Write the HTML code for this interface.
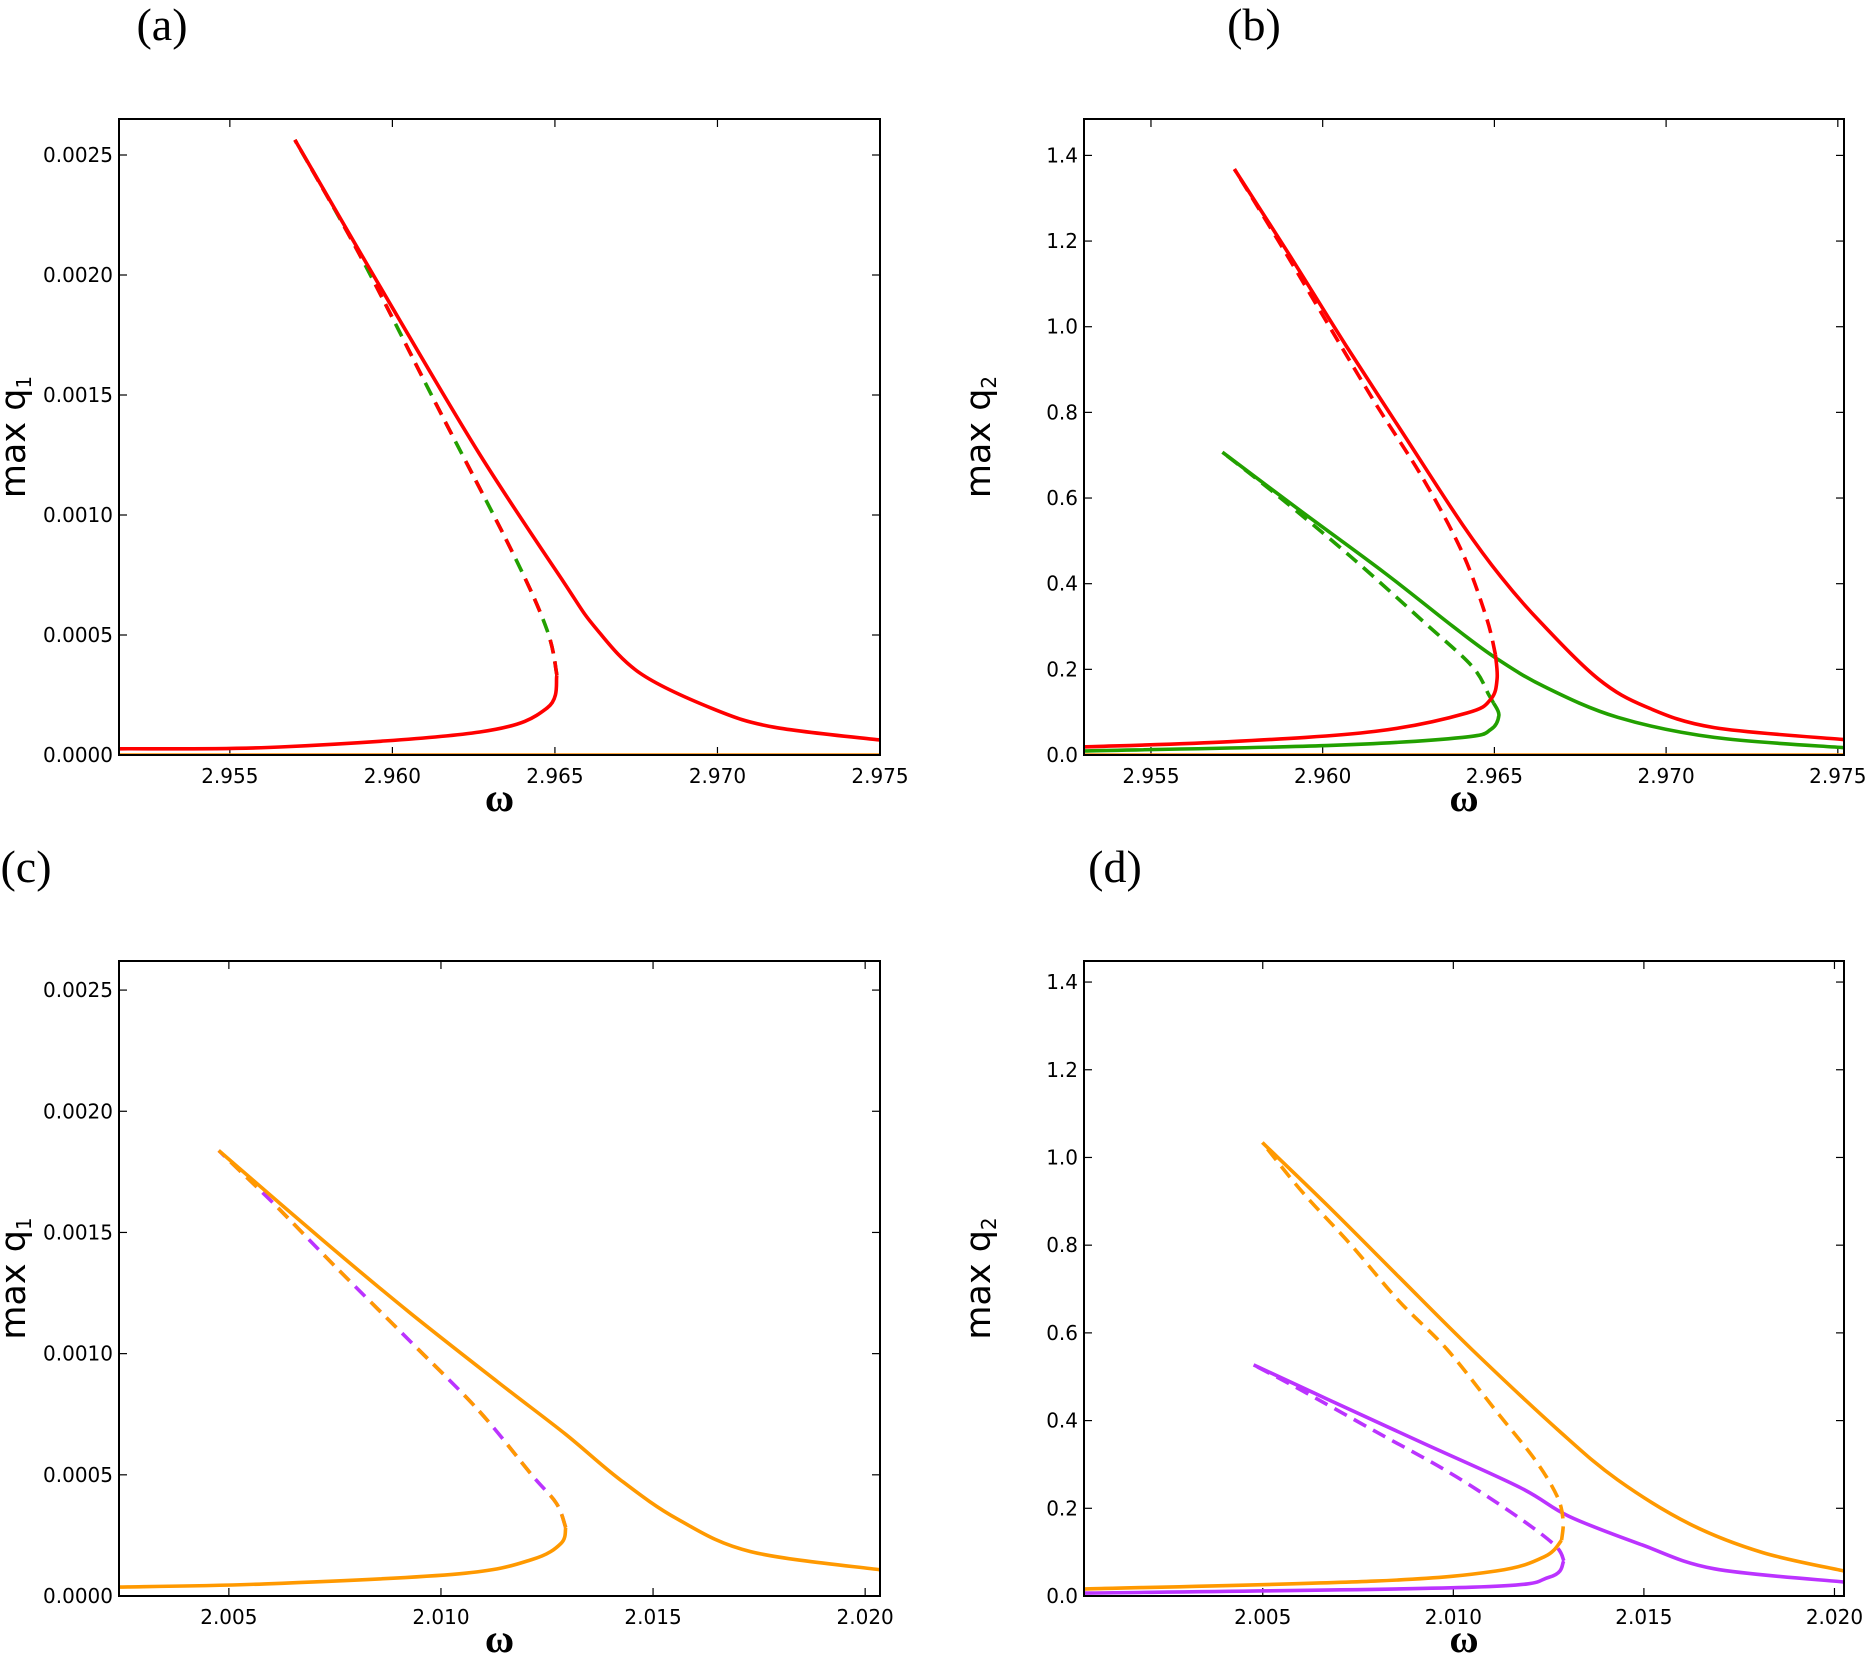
<!DOCTYPE html>
<html><head><meta charset="utf-8">
<style>
body{margin:0;background:#fff;}
svg{display:block;font-family:"DejaVu Sans","Liberation Sans",sans-serif;}
.tick{font-size:20px;fill:#000;}
.panel{font-family:"Liberation Serif",serif;font-size:46px;fill:#000;}
.ytitle{font-size:35px;fill:#000;}
.xtitle{font-family:"Liberation Serif",serif;font-size:40px;font-weight:bold;fill:#000;}
</style></head>
<body>
<svg id="fig" width="1867" height="1658" viewBox="0 0 1867 1658" xmlns="http://www.w3.org/2000/svg"></svg>
<script>
// ---- Panel (a) data: max q1 vs omega ----
const aRedUpperX=[2.95700,2.95993,2.96269,2.96525,2.96623,2.96762,2.96989,2.97174,2.975];
const aRedUpperY=[0.002563,0.00188,0.001252,0.000724,0.000533,0.000341,0.000191,0.000116,0.0000624];
const aRedLowerX=[2.95159,2.95654,2.96269,2.96476,2.96506];
const aRedLowerY=[0.000026,0.0000333,0.0000957,0.000196,0.000333];
const aDashX=[2.96506,2.96476,2.96371,2.96137,2.959,2.957];
const aDashY=[0.000333,0.00052,0.00084,0.001456,0.002083,0.002563];
// ---- Panel (b) data: max q2 vs omega ----
const bRedUpperX=[2.95743,2.95898,2.96068,2.96237,2.96407,2.9652,2.96633,2.96802,2.96943,2.9714,2.97518];
const bRedUpperY=[1.368,1.174,0.956,0.747,0.538,0.415,0.311,0.178,0.112,0.064,0.036];
const bRedLowerX=[2.95305,2.95729,2.96152,2.9642,2.9649,2.96508,2.96503];
const bRedLowerY=[0.019,0.031,0.055,0.098,0.131,0.178,0.235];
const bRedDashX=[2.96503,2.96477,2.96407,2.96294,2.96152,2.96011,2.9587,2.95743];
const bRedDashY=[0.235,0.32,0.472,0.643,0.823,1.012,1.202,1.368];
const bGreenUpperX=[2.95708,2.95941,2.96181,2.96378,2.96505,2.96647,2.96859,2.9714,2.97518];
const bGreenUpperY=[0.707,0.567,0.425,0.301,0.226,0.159,0.088,0.041,0.017];
const bGreenLowerX=[2.95305,2.96011,2.96407,2.9649,2.96513,2.96498];
const bGreenLowerY=[0.0095,0.022,0.041,0.06,0.093,0.121];
const bGreenDashX=[2.96498,2.96484,2.96435,2.96294,2.96082,2.9587,2.95708];
const bGreenDashY=[0.121,0.14,0.207,0.311,0.463,0.605,0.707];
// ---- Panel (c) data: max q1 vs omega ----
const cUpperX=[2.00476,2.00722,2.00928,2.01134,2.01294,2.0142,2.01558,2.0173,2.02035];
const cUpperY=[0.001838,0.001467,0.001167,0.000883,0.000667,0.000483,0.000317,0.000183,0.000108];
const cLowerX=[2.00241,2.00585,2.01043,2.01214,2.01283,2.01294];
const cLowerY=[0.0000367,0.00005,0.0000917,0.00015,0.000217,0.000283];
const cDashX=[2.01294,2.01272,2.01214,2.01088,2.00928,2.00756,2.00607,2.00476];
const cDashY=[0.000283,0.000383,0.0005,0.000767,0.00105,0.00135,0.001617,0.001838];
// ---- Panel (d) data: max q2 vs omega ----
const dOrUpperX=[2.00499,2.00667,2.00858,2.0105,2.01278,2.01431,2.01621,2.01812,2.02025];
const dOrUpperY=[1.034,0.893,0.727,0.561,0.376,0.265,0.164,0.099,0.057];
const dOrLowerX=[2.00031,2.00794,2.01112,2.0124,2.01284];
const dOrLowerY=[0.016,0.034,0.057,0.09,0.127];
const dOrDashX=[2.01284,2.01288,2.01272,2.01214,2.01112,2.00985,2.00858,2.00731,2.00604,2.00499];
const dOrDashY=[0.127,0.173,0.228,0.311,0.422,0.561,0.672,0.801,0.921,1.034];
const dPuUpperX=[2.00476,2.00667,2.00922,2.01176,2.01303,2.01494,2.01685,2.02025];
const dPuUpperY=[0.527,0.45,0.348,0.247,0.182,0.117,0.062,0.032];
const dPuLowerX=[2.00031,2.01049,2.01252,2.0129];
const dPuLowerY=[0.0065,0.02,0.043,0.08];
const dPuDashX=[2.0129,2.01265,2.01151,2.00985,2.00794,2.00604,2.00476];
const dPuDashY=[0.08,0.117,0.191,0.284,0.376,0.468,0.527];
// ---- tick labels ----
const xTicksA=["2.955","2.960","2.965","2.970","2.975"];
const xTicksC=["2.005","2.010","2.015","2.020"];
const yTicksQ1=["0.0000","0.0005","0.0010","0.0015","0.0020","0.0025"];
const yTicksQ2=["0.0","0.2","0.4","0.6","0.8","1.0","1.2","1.4"];

const NS="http://www.w3.org/2000/svg";
const svg=document.getElementById('fig');
function mk(tag,attrs,parent){const e=document.createElementNS(NS,tag);for(const k in attrs)e.setAttribute(k,attrs[k]);(parent||svg).appendChild(e);return e;}

function smoothPath(pts){
  if(pts.length<3)return pts.map((p,i)=>(i?'L':'M')+p[0].toFixed(1)+' '+p[1].toFixed(1)).join(' ');
  let d='M'+pts[0][0].toFixed(1)+' '+pts[0][1].toFixed(1);
  for(let i=0;i<pts.length-1;i++){
    const p0=pts[Math.max(0,i-1)],p1=pts[i],p2=pts[i+1],p3=pts[Math.min(pts.length-1,i+2)];
    const c1=[p1[0]+(p2[0]-p0[0])/6,p1[1]+(p2[1]-p0[1])/6];
    const c2=[p2[0]-(p3[0]-p1[0])/6,p2[1]-(p3[1]-p1[1])/6];
    d+=' C'+c1[0].toFixed(1)+' '+c1[1].toFixed(1)+' '+c2[0].toFixed(1)+' '+c2[1].toFixed(1)+' '+p2[0].toFixed(1)+' '+p2[1].toFixed(1);
  }
  return d;
}

function panel(name,box,xlim,ylim,xt,yt,letter,letterPos,ytitleSub){
  const g=mk('g',{});
  
  
  const sx=v=>box.x0+(v-xlim[0])/(xlim[1]-xlim[0])*(box.x1-box.x0);
  const sy=v=>box.y1-(v-ylim[0])/(ylim[1]-ylim[0])*(box.y1-box.y0);
  xt.forEach(t=>{const v=parseFloat(t);const x=sx(v);
    mk('line',{x1:x,x2:x,y1:box.y1,y2:box.y1-8,stroke:'#000','stroke-width':1.2},g);
    mk('line',{x1:x,x2:x,y1:box.y0,y2:box.y0+8,stroke:'#000','stroke-width':1.2},g);
    const tx=mk('text',{x:x,y:box.y1+28,'text-anchor':'middle',class:'tick'},g);tx.textContent=t;
    
    });
  yt.forEach(t=>{const v=parseFloat(t);const y=sy(v);
    mk('line',{x1:box.x0,x2:box.x0+8,y1:y,y2:y,stroke:'#000','stroke-width':1.2},g);
    mk('line',{x1:box.x1,x2:box.x1-8,y1:y,y2:y,stroke:'#000','stroke-width':1.2},g);
    const tx=mk('text',{x:box.x0-6,y:y+7,'text-anchor':'end',class:'tick'},g);tx.textContent=t;
    
    });
  const clipId='clip-'+name;
  const cp=mk('clipPath',{id:clipId},g);mk('rect',{x:box.x0,y:box.y0,width:box.x1-box.x0,height:box.y1-box.y0},cp);
  const plot=mk('g',{'clip-path':'url(#'+clipId+')'},g);
  function line(xs,ys,color,dash,nm){
    const pts=xs.map((x,i)=>[sx(x),sy(ys[i])]);
    const p=mk('path',{d:smoothPath(pts),fill:'none',stroke:color,'stroke-width':3.6,'stroke-linejoin':'round','stroke-linecap':'butt'},plot);
    if(dash)p.setAttribute('stroke-dasharray',dash.join(' '));
    
    
  }
  const fr=mk('rect',{x:box.x0,y:box.y0,width:box.x1-box.x0,height:box.y1-box.y0,fill:'none',stroke:'#000','stroke-width':2},g);
  
  
  const L=mk('text',{x:letterPos[0],y:letterPos[1],'text-anchor':'middle',class:'panel'},g);L.textContent=letter;
  
  
  const cy=(box.y0+box.y1)/2, cx=box.x0-94;
  const yt2=mk('text',{x:cx,y:cy,'text-anchor':'middle',class:'ytitle',transform:`rotate(-90 ${cx} ${cy})`},g);
  yt2.innerHTML='max q<tspan font-size="20" dy="6">'+ytitleSub+'</tspan>';
  
  
  const xt2=mk('text',{x:(box.x0+box.x1)/2,y:box.y1+56,'text-anchor':'middle',class:'xtitle'},g);xt2.textContent='ω';
  
  
  return {line};
}

const A=panel('a',{x0:119,x1:880,y0:119,y1:755},[2.95159,2.975],[0,0.00265],xTicksA,yTicksQ1,'(a)',[162,40],'1');
A.line([2.95159,2.975],[0,0],'#ff8c00',null,'zero-line');
A.line(aRedLowerX,aRedLowerY,'#ff0000',null,'red-lower-branch');
A.line(aDashX,aDashY,'#22a000',[14,8],'green-unstable-branch');
A.line(aDashX,aDashY,'#ff0000',[14,8,14,30],'red-unstable-branch');
A.line(aRedUpperX,aRedUpperY,'#ff0000',null,'red-upper-branch');

const B=panel('b',{x0:1084,x1:1844,y0:119,y1:755},[2.95305,2.97518],[0,1.485],xTicksA,yTicksQ2,'(b)',[1254,40],'2');
B.line([2.953,2.976],[0,0],'#ff8c00',null,'zero-line');
B.line(bGreenLowerX,bGreenLowerY,'#22a000',null,'green-lower-branch');
B.line(bGreenDashX,bGreenDashY,'#22a000',[14,8],'green-unstable-branch');
B.line(bGreenUpperX,bGreenUpperY,'#22a000',null,'green-upper-branch');
B.line(bRedLowerX,bRedLowerY,'#ff0000',null,'red-lower-branch');
B.line(bRedDashX,bRedDashY,'#ff0000',[14,8],'red-unstable-branch');
B.line(bRedUpperX,bRedUpperY,'#ff0000',null,'red-upper-branch');

const C=panel('c',{x0:119,x1:880,y0:961,y1:1596},[2.00241,2.02035],[0,0.00262],xTicksC,yTicksQ1,'(c)',[26,882],'1');
C.line(cLowerX,cLowerY,'#ff9900',null,'orange-lower-branch');
C.line(cDashX,cDashY,'#bb33ff',[14,8],'purple-unstable-branch');
C.line(cDashX,cDashY,'#ff9900',[14,8,14,30],'orange-unstable-branch');
C.line(cUpperX,cUpperY,'#ff9900',null,'orange-upper-branch');

const D=panel('d',{x0:1084,x1:1844,y0:961,y1:1596},[2.00031,2.02025],[0,1.448],xTicksC,yTicksQ2,'(d)',[1115,882],'2');
D.line(dPuLowerX,dPuLowerY,'#bb33ff',null,'purple-lower-branch');
D.line(dPuDashX,dPuDashY,'#bb33ff',[14,8],'purple-unstable-branch');
D.line(dPuUpperX,dPuUpperY,'#bb33ff',null,'purple-upper-branch');
D.line(dOrLowerX,dOrLowerY,'#ff9900',null,'orange-lower-branch');
D.line(dOrDashX,dOrDashY,'#ff9900',[14,8],'orange-unstable-branch');
D.line(dOrUpperX,dOrUpperY,'#ff9900',null,'orange-upper-branch');
</script>
</body></html>
